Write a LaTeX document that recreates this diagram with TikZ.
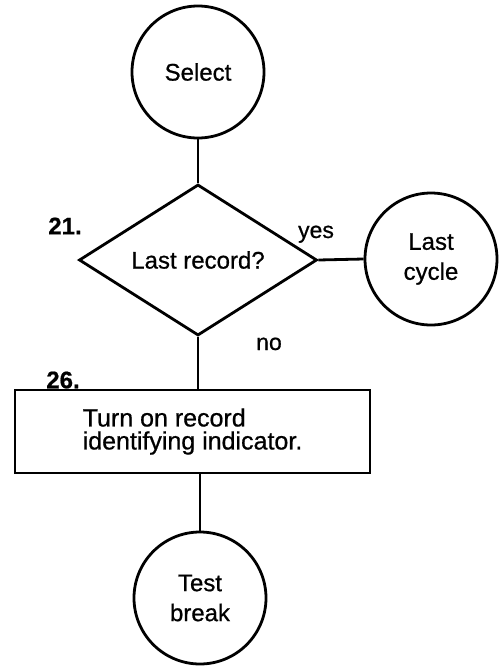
\documentclass[tikz,border=0pt]{standalone}
\usepackage{fontspec}
\setmainfont{Liberation Sans}[FakeBold=0.7]
\usetikzlibrary{shapes.geometric}
\begin{document}
\begin{tikzpicture}[x=1pt,y=-1pt,
  every node/.style={font=\fontsize{24}{30}\selectfont},
  conn/.style={line width=2.8pt},
  term/.style={circle,draw,line width=2.8pt,minimum size=132pt,inner sep=0pt,align=center},
  decide/.style={diamond,draw,line width=2.8pt,minimum width=238pt,minimum height=148pt,inner sep=0pt},
  procbox/.style={rectangle,draw,line width=2.5pt,minimum width=355pt,minimum height=83pt,align=left,inner sep=0pt,font=\fontsize{25}{23}\selectfont},
  tag/.style={font=\bfseries\fontsize{24}{24}\selectfont,inner sep=0pt},
  lab/.style={font=\fontsize{23}{24}\selectfont,inner sep=0pt,anchor=base}
]
\useasboundingbox (0,0) rectangle (499,667);
\node[term] (sel) at (198,72) {Select};
\node[decide] (dia) at (198,260) {Last record?};
\node[term] (last) at (431,259) {Last\\cycle};
\node[procbox] (box) at (192.5,431.5) {Turn on record\\identifying indicator.};
\node[term] (test) at (200,598) {Test\\break};
\node[tag] (n21) at (65,226) {21.};
\node[tag] (n26) at (63,380) {26.};
\node[lab] (yes) at (316,238) {yes};
\node[lab] (no) at (269,350) {no};
\draw[conn] (sel) -- (dia);
\draw[conn] (dia.east) -- (last.west);
\draw[conn] (dia.south) -- (dia.south |- box.north);
\draw[conn] (test.north |- box.south) -- (test.north);
\end{tikzpicture}
\end{document}
